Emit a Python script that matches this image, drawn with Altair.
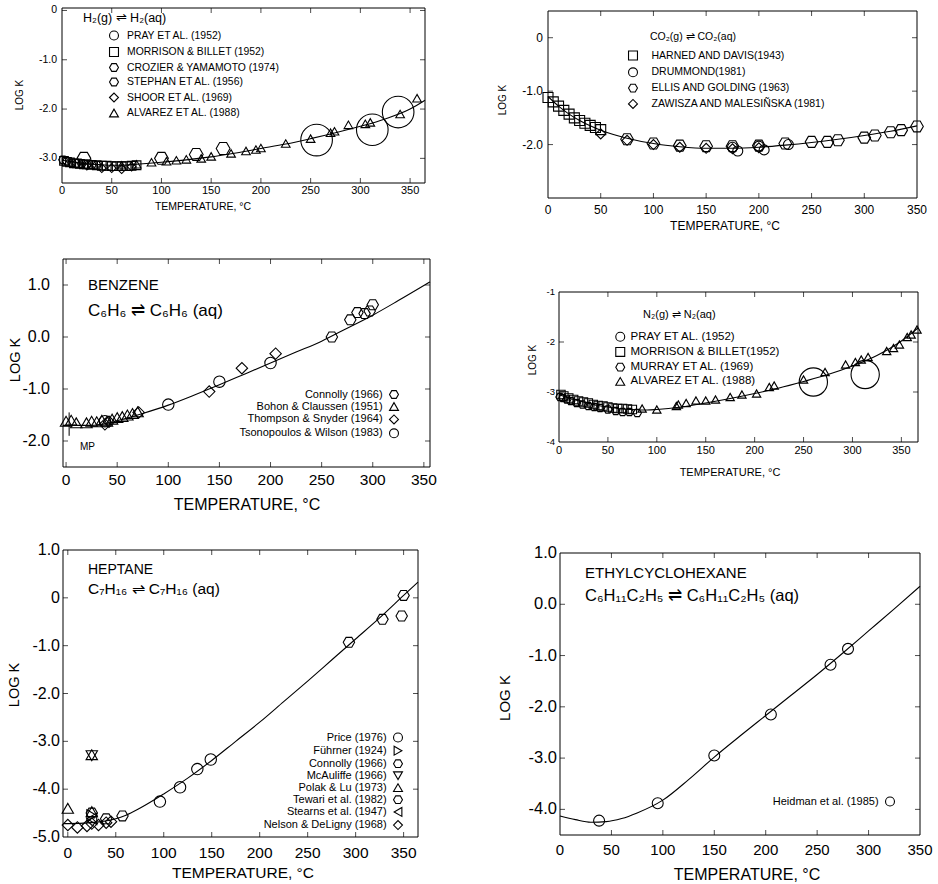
import altair as alt
import pandas as pd

W, H = 938, 884
FONT = "Liberation Sans"
HEX = "M-1,0L-0.5,-0.866L0.5,-0.866L1,0L0.5,0.866L-0.5,0.866Z"
XTICKS = [0, 50, 100, 150, 200, 250, 300, 350]
XLABELS = ["0", "50", "100", "150", "200", "250", "300", "350"]

# ---------------- Panel 1 : H2 ----------------
H2_CURVE_T = [0, 10, 25, 40, 50, 60, 75, 100, 125, 150, 175, 200, 225, 250, 275, 300, 325, 350, 365]
H2_CURVE_K = [-3.04, -3.07, -3.11, -3.13, -3.14, -3.14, -3.12, -3.08, -3.03, -2.97, -2.89, -2.8, -2.71, -2.6, -2.48, -2.35, -2.2, -2.0, -1.82]
H2_NAMES = ["PRAY ET AL. (1952)", "MORRISON & BILLET (1952)", "CROZIER & YAMAMOTO (1974)",
            "STEPHAN ET AL. (1956)", "SHOOR ET AL. (1969)", "ALVAREZ ET AL. (1988)"]
H2_PRAY_T = [256, 312, 338]
H2_PRAY_K = [-2.63, -2.42, -2.06]
H2_MORR_T = [2, 5, 8, 12, 15, 18, 22, 25, 30, 35, 40, 45, 50, 55, 60, 65, 70, 75]
H2_MORR_K = [-3.05, -3.07, -3.08, -3.1, -3.1, -3.11, -3.12, -3.12, -3.13, -3.14, -3.15, -3.15, -3.16, -3.16, -3.16, -3.16, -3.15, -3.14]
H2_CROZ_T = [1, 5, 10, 15, 20, 25, 30, 35]
H2_CROZ_K = [-3.03, -3.06, -3.09, -3.1, -3.11, -3.12, -3.13, -3.14]
H2_STEP_T = [22, 100, 135, 162]
H2_STEP_K = [-3.0, -3.0, -2.92, -2.8]
H2_SHOO_T = [25, 40, 50, 60, 70]
H2_SHOO_K = [-3.15, -3.2, -3.2, -3.22, -3.17]
H2_ALVA_T = [60, 75, 90, 105, 115, 125, 140, 150, 170, 185, 195, 200, 225, 250, 270, 274, 288, 305, 310, 340, 357]
H2_ALVA_K = [-3.14, -3.12, -3.08, -3.06, -3.04, -3.02, -3.0, -2.96, -2.9, -2.85, -2.82, -2.79, -2.7, -2.6, -2.48, -2.45, -2.32, -2.3, -2.27, -2.1, -1.78]
H2_YTICKS = [0, -1, -2, -3]
H2_YLABELS = ["0", "-1.0", "-2.0", "-3.0"]

# ---------------- Panel 2 : CO2 ----------------
CO2_CURVE_T = [0, 10, 20, 30, 40, 50, 75, 100, 125, 150, 175, 200, 225, 250, 275, 300, 325, 350]
CO2_CURVE_K = [-1.1, -1.28, -1.43, -1.55, -1.65, -1.73, -1.88, -1.98, -2.04, -2.07, -2.07, -2.05, -2.01, -1.96, -1.9, -1.83, -1.75, -1.65]
CO2_NAMES = ["HARNED AND DAVIS(1943)", "DRUMMOND(1981)", "ELLIS AND GOLDING (1963)", "ZAWISZA AND MALESIÑSKA (1981)"]
CO2_HARN_T = [0, 5, 10, 15, 20, 25, 30, 35, 40, 45, 50]
CO2_HARN_K = [-1.12, -1.2, -1.28, -1.36, -1.43, -1.5, -1.55, -1.6, -1.64, -1.68, -1.72]
CO2_DRUM_T = [175, 180, 200, 205, 228]
CO2_DRUM_K = [-2.05, -2.12, -2.03, -2.1, -2.0]
CO2_ELLI_T = [75, 100, 125, 150, 175, 200, 225, 250, 265, 275, 300, 310, 325, 335, 350]
CO2_ELLI_K = [-1.9, -1.98, -2.02, -2.03, -2.03, -2.02, -1.98, -1.95, -1.95, -1.92, -1.87, -1.83, -1.77, -1.73, -1.66]
CO2_ZAWI_T = [50, 75, 100, 125, 150, 175, 200]
CO2_ZAWI_K = [-1.8, -1.92, -2.0, -2.05, -2.07, -2.08, -2.06]
CO2_YTICKS = [0, -1, -2]
CO2_YLABELS = ["0", "-1.0", "-2.0"]

# ---------------- Panel 3 : benzene ----------------
BZ_CURVE_T = [-3, 0, 25, 40, 50, 75, 100, 125, 150, 175, 200, 225, 250, 275, 300, 325, 356]
BZ_CURVE_K = [-1.7, -1.7, -1.7, -1.66, -1.61, -1.47, -1.31, -1.12, -0.92, -0.71, -0.5, -0.29, -0.08, 0.17, 0.42, 0.7, 1.06]
BZ_NAMES = ["Connolly (1966)", "Bohon & Claussen (1951)", "Thompson & Snyder (1964)", "Tsonopoulos & Wilson (1983)"]
BZ_CONN_T = [260, 278, 285, 292, 297, 300]
BZ_CONN_K = [0.0, 0.33, 0.47, 0.45, 0.5, 0.62]
BZ_BOHO_T = [0, 5, 10, 20, 25, 30, 35, 40, 45, 50, 55, 60, 65, 70]
BZ_BOHO_K = [-1.62, -1.6, -1.65, -1.65, -1.62, -1.63, -1.6, -1.62, -1.58, -1.55, -1.53, -1.5, -1.47, -1.44]
BZ_THOM_T = [38, 42, 71, 140, 172, 205]
BZ_THOM_K = [-1.68, -1.63, -1.45, -1.05, -0.6, -0.32]
BZ_TSON_T = [38, 100, 150, 200]
BZ_TSON_K = [-1.62, -1.3, -0.86, -0.5]
BZ_YTICKS = [1, 0, -1, -2]
BZ_YLABELS = ["1.0", "0.0", "-1.0", "-2.0"]
BZ_MP_T = 3
BZ_MP_K = [-1.45, -1.9]

# ---------------- Panel 4 : N2 ----------------
N2_CURVE_T = [0, 10, 25, 40, 50, 60, 75, 90, 100, 125, 150, 175, 200, 225, 250, 275, 300, 325, 350, 367]
N2_CURVE_K = [-3.05, -3.12, -3.2, -3.27, -3.3, -3.33, -3.35, -3.36, -3.35, -3.3, -3.22, -3.13, -3.03, -2.92, -2.79, -2.65, -2.48, -2.27, -1.98, -1.72]
N2_NAMES = ["PRAY ET AL. (1952)", "MORRISON & BILLET(1952)", "MURRAY ET AL. (1969)", "ALVAREZ ET AL. (1988)"]
N2_PRAY_T = [260, 313]
N2_PRAY_K = [-2.8, -2.65]
N2_MORR_T = [2, 5, 10, 15, 20, 25, 30, 35, 40, 45, 50, 55, 60, 65, 70, 75]
N2_MORR_K = [-3.05, -3.08, -3.12, -3.15, -3.18, -3.2, -3.22, -3.25, -3.27, -3.28, -3.3, -3.32, -3.33, -3.33, -3.34, -3.35]
N2_MURR_T = [1, 4, 8, 12, 18, 24, 30, 36, 42, 50, 58, 65, 72, 80]
N2_MURR_K = [-3.1, -3.12, -3.15, -3.18, -3.22, -3.25, -3.28, -3.3, -3.32, -3.35, -3.38, -3.4, -3.4, -3.42]
N2_ALVA_T = [85, 100, 120, 122, 130, 140, 150, 160, 175, 187, 202, 215, 220, 250, 272, 293, 303, 309, 316, 335, 342, 348, 356, 360, 366]
N2_ALVA_K = [-3.33, -3.35, -3.28, -3.25, -3.22, -3.17, -3.17, -3.15, -3.1, -3.05, -3.03, -2.9, -2.87, -2.75, -2.6, -2.45, -2.4, -2.35, -2.3, -2.18, -2.12, -2.05, -1.9, -1.85, -1.75]
N2_YTICKS = [-1, -2, -3, -4]
N2_YLABELS = ["-1", "-2", "-3", "-4"]

# ---------------- Panel 5 : heptane ----------------
HP_CURVE_T = [-5, 0, 25, 50, 60, 75, 100, 125, 150, 175, 200, 225, 250, 275, 300, 325, 350, 365]
HP_CURVE_K = [-4.72, -4.72, -4.7, -4.62, -4.55, -4.4, -4.1, -3.77, -3.4, -3.0, -2.6, -2.17, -1.74, -1.3, -0.86, -0.42, 0.05, 0.33]
HP_NAMES = ["Price (1976)", "Führner (1924)", "Connolly (1966)", "McAuliffe (1966)", "Polak & Lu (1973)",
            "Tewari et al. (1982)", "Stearns et al. (1947)", "Nelson & DeLigny (1968)"]
HP_PRIC_T = [96, 117, 135, 149]
HP_PRIC_K = [-4.26, -3.96, -3.58, -3.38]
HP_FUHR_T = [25]
HP_FUHR_K = [-4.55]
HP_CONN_T = [293, 328, 350, 348]
HP_CONN_K = [-0.93, -0.45, 0.05, -0.38]
HP_MCAU_T = [25]
HP_MCAU_K = [-3.3]
HP_POLA_T = [25, 0, 25]
HP_POLA_K = [-3.28, -4.4, -4.47]
HP_TEWA_T = [25, 40, 57]
HP_TEWA_K = [-4.5, -4.62, -4.56]
HP_STEA_T = [25]
HP_STEA_K = [-4.62]
HP_NELS_T = [0, 10, 20, 25, 32, 40, 45]
HP_NELS_K = [-4.75, -4.8, -4.77, -4.72, -4.75, -4.7, -4.68]
HP_YTICKS = [1, 0, -1, -2, -3, -4, -5]
HP_YLABELS = ["1.0", "0", "-1.0", "-2.0", "-3.0", "-4.0", "-5.0"]

# ---------------- Panel 6 : ethylcyclohexane ----------------
EC_CURVE_T = [0, 15, 30, 45, 60, 75, 100, 125, 150, 175, 200, 225, 250, 275, 300, 325, 350]
EC_CURVE_K = [-4.13, -4.2, -4.25, -4.24, -4.18, -4.07, -3.82, -3.42, -2.98, -2.57, -2.17, -1.77, -1.37, -0.95, -0.52, -0.09, 0.35]
EC_NAMES = ["Heidman et al. (1985)"]
EC_HEID_T = [38, 95, 150, 205, 263, 280]
EC_HEID_K = [-4.22, -3.88, -2.95, -2.15, -1.18, -0.87]
EC_YTICKS = [1, 0, -1, -2, -3, -4]
EC_YLABELS = ["1.0", "0.0", "-1.0", "-2.0", "-3.0", "-4.0"]

DUMMY = pd.DataFrame({"k": [0]})


def long_df(names, series):
    rows = []
    for name, (ts, ks) in zip(names, series):
        for t, k in zip(ts, ks):
            rows.append({"T": t, "logK": k, "src": name})
    return pd.DataFrame(rows)


def text(txt, x, y, fs, align="left", angle=0):
    kw = dict(text=txt, align=align, baseline="middle", font=FONT, fontSize=fs, color="black")
    if angle:
        kw["angle"] = angle
    return alt.Chart(DUMMY).mark_text(**kw).encode(x=alt.value(x), y=alt.value(y))


def panel(c):
    px0, px1 = c["px"]
    py0, py1 = c["py"]
    xmin, xmax = c["xdom"]
    ymin, ymax = c["ydom"]
    sx = alt.Scale(domain=[xmin, xmax], range=[px0, px1], nice=False, zero=False)
    sy = alt.Scale(domain=[ymin, ymax], range=[py1, py0], nice=False, zero=False)

    def X(field):
        return alt.X(field, scale=sx, axis=None)

    def Y(field):
        return alt.Y(field, scale=sy, axis=None)

    def XD(v):
        return alt.XDatum(v, type="quantitative", scale=sx, axis=None)

    def YD(v):
        return alt.YDatum(v, type="quantitative", scale=sy, axis=None)

    frame = alt.Chart(DUMMY).mark_rect(fillOpacity=0, stroke="black", strokeWidth=1).encode(
        x=XD(xmin), x2=alt.X2Datum(xmax), y=YD(ymin), y2=alt.Y2Datum(ymax))

    xt = pd.DataFrame({"t": [v for v in XTICKS if xmin < v < xmax]})
    yt = pd.DataFrame({"t": [v for v in c["yticks"] if ymin < v < ymax]})
    tk = dict(color="black", thickness=1, size=5)
    ticks = [
        alt.Chart(xt).mark_tick(orient="vertical", yOffset=-2.5, **tk).encode(x=X("t:Q"), y=YD(ymin)),
        alt.Chart(xt).mark_tick(orient="vertical", yOffset=2.5, **tk).encode(x=X("t:Q"), y=YD(ymax)),
        alt.Chart(yt).mark_tick(orient="horizontal", xOffset=2.5, **tk).encode(y=Y("t:Q"), x=XD(xmin)),
        alt.Chart(yt).mark_tick(orient="horizontal", xOffset=-2.5, **tk).encode(y=Y("t:Q"), x=XD(xmax)),
    ]

    # tick labels, placed through the panel's scales
    xl = pd.DataFrame({"t": XTICKS, "lab": XLABELS})
    yl = pd.DataFrame({"t": c["yticks"], "lab": c["ylabels"]})
    labels = [
        alt.Chart(xl).mark_text(baseline="middle", dy=c["xldy"], font=FONT, fontSize=c["xlfs"], color="black").encode(
            x=X("t:Q"), y=YD(ymin), text="lab:N"),
        alt.Chart(yl).mark_text(align="right", baseline="middle", dx=c["yldx"], font=FONT, fontSize=c["ylfs"],
                                color="black").encode(y=Y("t:Q"), x=XD(xmin), text="lab:N"),
    ]

    curve = alt.Chart(pd.DataFrame({"T": c["curve"][0], "logK": c["curve"][1]})).mark_line(
        color="black", strokeWidth=1.1, interpolate="monotone", clip=True).encode(x=X("T:Q"), y=Y("logK:Q"))

    conds = [{"test": f"datum.src === '{n}'", "value": v} for n, v in c.get("sizes", {}).items()]
    size = alt.SizeValue(c["psize"], condition=conds) if conds else alt.value(c["psize"])
    symw = c["legsym"] ** 0.5
    leg = dict(orient="none", legendX=c["legxy"][0], legendY=c["legxy"][1], title=None,
               labelFont=FONT, labelFontSize=c["legfs"], labelColor="black", labelLimit=0,
               symbolSize=c["legsym"], symbolStrokeWidth=1.1, symbolStrokeColor="black",
               rowPadding=alt.ExprRef(str(c["legrow"])), padding=0, offset=0)
    if c.get("legleft"):
        leg.update(labelAlign="right", labelOffset=alt.ExprRef(str(-(symw + 8))))
    else:
        leg.update(labelOffset=c.get("legoff", 6))
    pts = alt.Chart(c["points"]).mark_point(filled=False, color="black", strokeWidth=1.1, opacity=1).encode(
        x=X("T:Q"), y=Y("logK:Q"),
        shape=alt.Shape("src:N", scale=alt.Scale(domain=c["names"], range=c["shapes"]), legend=alt.Legend(**leg)),
        size=size)

    extra = [e(XD, YD) for e in c.get("extra", [])]
    titles = [
        text("TEMPERATURE, °C", c["xtitle"][0], c["xtitle"][1], c["xtfs"], align="center"),
        text("LOG K", c["ytitle"][0], c["ytitle"][1], c["ytfs"], align="center", angle=270),
    ]
    layers = [frame] + ticks + labels + titles + [curve, pts] + extra
    layers += [text(t, x, y, fs) for (t, x, y, fs) in c["texts"]]
    return alt.layer(*layers)


panels = []

panels.append(panel(dict(
    px=(62, 425), py=(8, 183), xdom=(0, 365), ydom=(-3.5, 0.05),
    yticks=H2_YTICKS, ylabels=H2_YLABELS,
    xlfs=11, xldy=8, ylfs=10.5, yldx=-5,
    xtitle=(203, 207), xtfs=10.5, ytitle=(20, 95), ytfs=10,
    curve=(H2_CURVE_T, H2_CURVE_K),
    names=H2_NAMES, shapes=["circle", "square", HEX, HEX, "diamond", "triangle-up"],
    points=long_df(H2_NAMES, [(H2_PRAY_T, H2_PRAY_K), (H2_MORR_T, H2_MORR_K), (H2_CROZ_T, H2_CROZ_K),
                              (H2_STEP_T, H2_STEP_K), (H2_SHOO_T, H2_SHOO_K), (H2_ALVA_T, H2_ALVA_K)]),
    psize=75, sizes={"PRAY ET AL. (1952)": 1000, "STEPHAN ET AL. (1956)": 190},
    legxy=(108.5, 30), legfs=10.4, legsym=80, legrow=1.5, legoff=7.5,
    texts=[("H₂(g) ⇌ H₂(aq)", 83, 18, 12.5)],
)))

panels.append(panel(dict(
    px=(548, 917), py=(11, 198), xdom=(0, 350), ydom=(-3.0, 0.5),
    yticks=CO2_YTICKS, ylabels=CO2_YLABELS,
    xlfs=12, xldy=12, ylfs=12, yldx=-5,
    xtitle=(725, 226), xtfs=12, ytitle=(503, 100), ytfs=10,
    curve=(CO2_CURVE_T, CO2_CURVE_K),
    names=CO2_NAMES, shapes=["square", "circle", HEX, "diamond"],
    points=long_df(CO2_NAMES, [(CO2_HARN_T, CO2_HARN_K), (CO2_DRUM_T, CO2_DRUM_K),
                               (CO2_ELLI_T, CO2_ELLI_K), (CO2_ZAWI_T, CO2_ZAWI_K)]),
    psize=100, sizes={"ELLIS AND GOLDING (1963)": 160},
    legxy=(627.5, 50), legfs=10.5, legsym=80, legrow=1.8, legoff=13,
    texts=[("CO₂(g) ⇌ CO₂(aq)", 650, 37, 10.5)],
)))


def bz_mp(XD, YD):
    return alt.Chart(DUMMY).mark_rule(color="black", strokeWidth=1).encode(
        x=XD(BZ_MP_T), y=YD(BZ_MP_K[0]), y2=alt.Y2Datum(BZ_MP_K[1]))


panels.append(panel(dict(
    px=(63, 430), py=(259, 467), xdom=(-3, 356), ydom=(-2.5, 1.5),
    yticks=BZ_YTICKS, ylabels=BZ_YLABELS,
    xlfs=15.5, xldy=13, ylfs=16, yldx=-13,
    xtitle=(247, 505), xtfs=16, ytitle=(16, 360), ytfs=14.5,
    curve=(BZ_CURVE_T, BZ_CURVE_K),
    names=BZ_NAMES, shapes=[HEX, "triangle-up", "diamond", "circle"],
    points=long_df(BZ_NAMES, [(BZ_CONN_T, BZ_CONN_K), (BZ_BOHO_T, BZ_BOHO_K),
                              (BZ_THOM_T, BZ_THOM_K), (BZ_TSON_T, BZ_TSON_K)]),
    psize=130, legxy=(388.5, 389), legfs=11, legsym=80, legrow=-1.1, legleft=True,
    extra=[bz_mp],
    texts=[("BENZENE", 88, 285, 15), ("C₆H₆  ⇌  C₆H₆ (aq)", 88, 311, 17), ("MP", 80, 447, 10)],
)))

panels.append(panel(dict(
    px=(559, 918), py=(292, 442), xdom=(0, 367), ydom=(-4, -1),
    yticks=N2_YTICKS, ylabels=N2_YLABELS,
    xlfs=11, xldy=9, ylfs=9.5, yldx=-4,
    xtitle=(730, 473), xtfs=11, ytitle=(533, 360), ytfs=10,
    curve=(N2_CURVE_T, N2_CURVE_K),
    names=N2_NAMES, shapes=["circle", "square", HEX, "triangle-up"],
    points=long_df(N2_NAMES, [(N2_PRAY_T, N2_PRAY_K), (N2_MORR_T, N2_MORR_K),
                              (N2_MURR_T, N2_MURR_K), (N2_ALVA_T, N2_ALVA_K)]),
    psize=70, sizes={"PRAY ET AL. (1952)": 800},
    legxy=(614.5, 331), legfs=11.5, legsym=80, legrow=1.2, legoff=4.5,
    texts=[("N₂(g) ⇌ N₂(aq)", 643, 315, 11)],
)))

panels.append(panel(dict(
    px=(63, 418), py=(550, 837), xdom=(-5, 365), ydom=(-5, 1),
    yticks=HP_YTICKS, ylabels=HP_YLABELS,
    xlfs=15.5, xldy=16, ylfs=16, yldx=-3,
    xtitle=(243, 873), xtfs=15.5, ytitle=(15, 685), ytfs=14.5,
    curve=(HP_CURVE_T, HP_CURVE_K),
    names=HP_NAMES, shapes=["circle", "triangle-right", HEX, "triangle-down", "triangle-up", HEX, "triangle-left", "diamond"],
    points=long_df(HP_NAMES, [(HP_PRIC_T, HP_PRIC_K), (HP_FUHR_T, HP_FUHR_K), (HP_CONN_T, HP_CONN_K),
                              (HP_MCAU_T, HP_MCAU_K), (HP_POLA_T, HP_POLA_K), (HP_TEWA_T, HP_TEWA_K),
                              (HP_STEA_T, HP_STEA_K), (HP_NELS_T, HP_NELS_K)]),
    psize=130, legxy=(392.5, 732), legfs=11, legsym=80, legrow=-1.8, legleft=True,
    texts=[("HEPTANE", 88, 570, 14), ("C₇H₁₆ ⇌ C₇H₁₆ (aq)", 88, 589, 15.5)],
)))

panels.append(panel(dict(
    px=(560, 920), py=(553, 835), xdom=(0, 350), ydom=(-4.5, 1.0),
    yticks=EC_YTICKS, ylabels=EC_YLABELS,
    xlfs=15, xldy=15, ylfs=16.5, yldx=-3,
    xtitle=(747, 875), xtfs=16, ytitle=(505, 698), ytfs=15,
    curve=(EC_CURVE_T, EC_CURVE_K),
    names=EC_NAMES, shapes=["circle"],
    points=long_df(EC_NAMES, [(EC_HEID_T, EC_HEID_K)]),
    psize=120, legxy=(884.5, 796), legfs=11, legsym=80, legrow=0, legleft=True,
    texts=[("ETHYLCYCLOHEXANE", 585, 573, 15), ("C₆H₁₁C₂H₅  ⇌  C₆H₁₁C₂H₅ (aq)", 585, 596, 16.5)],
)))

chart = alt.layer(*panels).resolve_scale(
    x="independent", y="independent", shape="independent"
).resolve_legend(shape="independent").properties(
    width=W, height=H, padding=0, autosize=alt.AutoSizeParams(type="none"),
    background="white"
).configure_view(strokeWidth=0)

chart.save("out.html", embed_options={"renderer": "svg", "actions": False})
